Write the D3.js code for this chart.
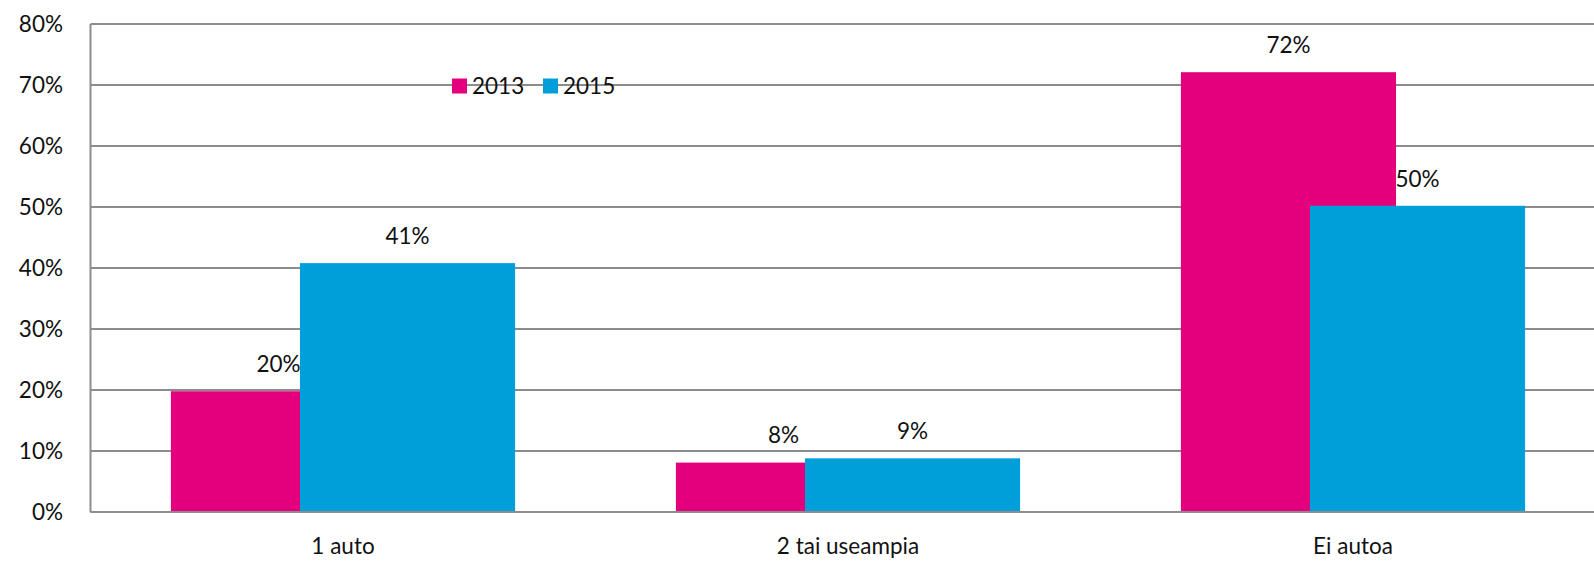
<!DOCTYPE html>
<html>
<head>
<meta charset="utf-8">
<script src="https://cdn.jsdelivr.net/npm/d3@7"></script>
<style>
body { margin: 0; background: #fff; }
text { font-family: Lato, "Open Sans", sans-serif; fill: #111; }
</style>
</head>
<body>
<div id="root"></div>
<script>
var width = 1594;
var height = 562;

// data
var categories = ["1 auto", "2 tai useampia", "Ei autoa"];
var series = ["2013", "2015"];
var values2013 = [0.198, 0.081, 0.721];
var values2015 = [0.408, 0.088, 0.502];
var labels2013 = ["20%", "8%", "72%"];
var labels2015 = ["41%", "9%", "50%"];
var tickValues = [0, 0.1, 0.2, 0.3, 0.4, 0.5, 0.6, 0.7, 0.8];
var colors = ["#e4007c", "#009fda"];

var fontSize = "22.5px";

var svg = d3.select("#root")
.append("svg")
.attr("width", width)
.attr("height", height);

var plotLeft = 90.5, plotRight = 1605.5, plotTop = 24, plotBottom = 512;

var x = d3.scaleBand()
.domain(categories)
.range([plotLeft, plotRight])
.padding(0);

var y = d3.scaleLinear()
.domain([0, 0.8])
.range([plotBottom, plotTop]);

var bw = x.bandwidth();
var barW = bw * 0.426;
// bars overlap, centers sit 129px apart
var xSub = d3.scalePoint()
.domain(series)
.range([bw / 2 - barW * 0.3, bw / 2 + barW * 0.3]);

/* gridlines */
svg.append("g")
.selectAll("line")
.data(tickValues)
.enter()
.append("line")
.attr("x1", plotLeft)
.attr("x2", plotRight)
.attr("y1", function(d) { return Math.round(y(d)); })
.attr("y2", function(d) { return Math.round(y(d)); })
.attr("stroke", "#8c8c8c")
.attr("stroke-width", 2);

svg.append("line")
.attr("x1", plotLeft).attr("x2", plotLeft)
.attr("y1", plotTop).attr("y2", plotBottom)
.attr("stroke", "#8c8c8c")
.attr("stroke-width", 2);

/* y tick labels */
svg.append("g")
.selectAll("text")
.data(tickValues)
.enter()
.append("text")
.attr("x", 63)
.attr("y", function(d) { return y(d); })
.attr("dy", "0.35em")
.attr("text-anchor", "end")
.style("font-size", fontSize)
.text(function(d) { return Math.round(d * 100) + "%"; });

/* bars */
var table = series.map(function(s, i) {
	var vals = i === 0 ? values2013 : values2015;
	var labs = i === 0 ? labels2013 : labels2015;
	return categories.map(function(c, j) {
		return { cat: c, s: s, v: vals[j], label: labs[j], color: colors[i] };
	});
});

table.forEach(function(rows) {
	svg.append("g")
	.selectAll("rect")
	.data(rows)
	.enter()
	.append("rect")
	.attr("x", function(d) { return x(d.cat) + xSub(d.s) - barW / 2; })
	.attr("width", barW)
	.attr("y", function(d) { return y(d.v); })
	.attr("height", function(d) { return y(0) - y(d.v); })
	.attr("fill", function(d) { return d.color; });
});

// baseline above bars
svg.append("line")
.attr("x1", plotLeft).attr("x2", plotRight)
.attr("y1", plotBottom).attr("y2", plotBottom)
.attr("stroke", "#8c8c8c")
.attr("stroke-width", 2);

/* value labels */
table.forEach(function(rows) {
	svg.append("g")
	.selectAll("text")
	.data(rows)
	.enter()
	.append("text")
	.attr("x", function(d) { return x(d.cat) + xSub(d.s); })
	.attr("y", function(d) { return y(d.v) - 27; })
	.attr("dy", "0.35em")
	.attr("text-anchor", "middle")
	.style("font-size", fontSize)
	.text(function(d) { return d.label; });
});

/* category labels */
svg.append("g")
.selectAll("text")
.data(categories)
.enter()
.append("text")
.attr("x", function(d) { return x(d) + bw / 2; })
.attr("y", 546)
.attr("dy", "0.35em")
.attr("text-anchor", "middle")
.style("font-size", fontSize)
.text(function(d) { return d; });

/* legend */
var legend = svg.append("g")
.attr("transform", "translate(452, 86)");

var item = legend.selectAll("g")
.data(series)
.enter()
.append("g")
.attr("transform", function(d, i) { return "translate(" + (i * 91) + ",0)"; });

item.append("rect")
.attr("x", 0)
.attr("y", -7.5)
.attr("width", 15)
.attr("height", 15)
.attr("fill", function(d, i) { return colors[i]; });

item.append("text")
.attr("x", 20)
.attr("y", 0)
.attr("dy", "0.35em")
.style("font-size", fontSize)
.text(function(d) { return d; });
</script>
</body>
</html>
